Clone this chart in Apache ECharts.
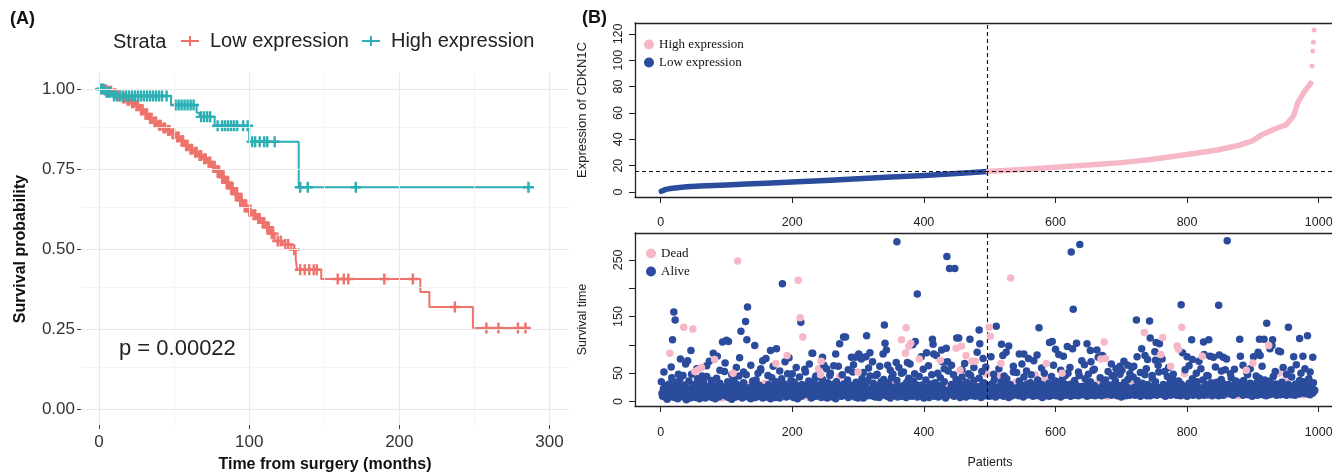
<!DOCTYPE html>
<html><head><meta charset="utf-8">
<script src="https://cdn.jsdelivr.net/npm/echarts@6/dist/echarts.min.js"></script>
<style>html,body{margin:0;padding:0;background:#fff}#c{width:1332px;height:472px}</style>
</head><body><div id="c"></div>
<script>
// ---------- Panel A: Kaplan-Meier ----------
const kmLowSteps = [[0,1],[3,0.997],[6,0.993],[9,0.985],[12,0.978],[15,0.972],[18,0.965],[21,0.957],[24,0.948],[27,0.935],[30,0.922],[33,0.908],[36,0.897],[39,0.887],[42,0.878],[45,0.870],[48,0.860],[51,0.850],[54,0.838],[57,0.823],[60,0.812],[63,0.802],[66,0.792],[69,0.782],[72,0.772],[75,0.758],[78,0.742],[81,0.725],[84,0.707],[87,0.690],[90,0.672],[93,0.652],[96,0.635],[99,0.618],[102,0.607],[105,0.595],[108,0.582],[111,0.568],[114,0.548],[117,0.525],[122,0.514],[128,0.498],[131,0.467],[132,0.435],[148,0.406],[214,0.366],[220,0.319],[249,0.253],[287,0.253]];
const kmLowCensor = [4,5,7,8,10,11,13,14,16,17,19,20,22,23,25,26,28,29,31,32,34,35,37,38,40,41,43,44,46,47,49,50,52,53,55,56,58,59,61,62,64,65,67,68,70,71,73,74,76,77,79,80,82,83,85,86,88,89,91,92,94,95,97,98,100,101,103,104,106,107,109,110,112,113,115,116,119,121,124,126,130,134,137,140,143,145,159,163,166,190,209,237,258,266,279,284];
const kmHighSteps = [[0,1],[4,0.99],[9,0.978],[48,0.950],[65,0.926],[67,0.913],[77,0.885],[100,0.835],[133,0.693],[286,0.693]];
const kmHighCensor = [1,2,3,5,6,7,10,12,14,16,18,20,22,24,26,28,30,32,34,36,38,40,42,45,51,53,55,57,59,61,63,68,70,72,74,79,82,84,86,88,90,92,96,99,102,104,107,110,112,117,134,139,171,286];
const kmXTicks = [0,100,200,300];
const kmYTicks = [0,0.25,0.5,0.75,1];
const kmXMajor = [0,100,200,300];
const kmXMinor = [50,150,250];
const kmYMajor = [0,0.25,0.5,0.75,1];
const kmYMinor = [0.125,0.375,0.625,0.875];
const pValueText = 'p = 0.00022';

// ---------- Panel B top: sorted expression ----------
const exprLow = [[1,0.5],[3,1.3],[8,2.0],[15,2.6],[25,3.2],[40,3.9],[60,4.5],[80,5.0],[100,5.4],[130,6.0],[160,6.6],[200,7.6],[250,8.8],[300,10.0],[350,11.3],[400,12.6],[450,14.0],[497,15.5]];
const exprHigh = [[498,15.6],[550,17.1],[600,18.8],[650,20.5],[700,22.3],[745,24.6],[800,28.5],[846,31.9],[881,35.7],[900,39],[912,43],[932,47.6],[950,51],[957,54.7],[962,58],[968,67.6],[978,76],[988,82.6]];
const exprHighTail = [[990,95.7],[991,107],[992,113.6],[993,123]];
const exprCutoff = 15.5;
const cutoffRank = 497;
const patientTicks = [0,200,400,600,800,1000];
const exprTicks = [0,20,40,60,80,100,120];

// ---------- Panel B bottom: survival time per patient ----------
const survTime = [
35,14,9,22,17,6,28,12,19,4,25,15,31,8,20,13,42,10,18,26,
7,16,33,11,23,5,19,14,38,9,27,12,21,46,8,17,29,13,3,24,
15,10,36,20,6,18,48,12,26,9,16,30,7,22,14,40,11,19,5,28,
13,25,8,17,34,11,21,6,15,44,18,10,27,9,23,14,37,7,20,12,
29,16,5,19,41,13,24,8,17,32,10,22,15,6,26,18,53,11,20,9,
14,35,7,21,12,28,17,4,23,10,39,15,19,8,31,13,25,11,45,16,
9,20,27,6,18,33,12,22,15,47,10,24,8,19,30,14,5,26,13,36,
17,11,23,7,38,15,20,9,29,13,18,55,10,25,6,21,14,32,12,19,
24,8,16,30,11,22,5,18,42,14,27,10,20,7,35,15,23,12,17,28,
6,19,13,40,9,25,16,31,11,21,8,17,49,14,26,10,20,37,12,15,
22,7,34,14,18,10,28,5,23,16,43,12,19,9,30,15,25,11,57,17,
13,27,8,20,36,11,24,15,6,19,32,10,22,14,41,9,26,17,12,29,
18,10,25,7,21,39,13,17,28,9,15,23,6,33,12,20,46,14,24,11,
8,30,16,12,22,5,35,19,14,27,10,44,17,21,9,26,13,31,15,20,
25,11,18,38,7,23,14,29,10,20,16,52,12,24,8,19,34,13,22,6,
15,21,9,28,13,40,17,6,24,11,30,19,14,36,10,22,16,45,12,27,
10,18,32,14,23,8,26,12,48,16,20,7,29,15,35,11,21,13,39,17,
20,12,27,9,17,33,14,24,6,19,42,11,25,16,10,30,22,13,37,8,
16,26,11,21,14,50,9,19,28,12,23,17,7,34,15,20,41,10,25,13,
27,9,15,36,11,22,18,30,13,8,24,16,44,12,20,10,29,14,19,6,
12,23,38,10,19,14,26,7,21,31,15,47,11,18,25,9,33,16,22,13,
19,8,28,15,42,12,20,24,10,17,35,14,6,26,18,11,54,13,21,16,
14,30,10,22,17,9,27,13,39,19,11,24,15,32,7,20,16,43,12,25,
23,13,18,8,34,16,21,11,29,14,46,10,19,25,12,37,17,9,22,15,
11,26,15,41,13,20,7,28,18,12,33,16,23,10,49,14,19,27,9,21,
17,10,31,14,22,12,38,19,8,25,15,20,45,11,27,13,18,35,16,24,
9,21,16,28,11,40,14,23,7,18,30,13,26,10,19,52,15,22,12,34,
20,13,25,10,36,17,12,29,15,21,8,43,16,24,11,19,31,14,27,18,
15,33,11,19,24,9,28,14,47,17,12,22,38,10,26,16,20,13,30,7,
25,12,18,39,14,21,10,27,16,32,9,23,15,44,11,20,17,29,13,36,
10,19,28,13,22,15,35,8,24,18,41,12,26,16,11,30,21,14,50,17,
22,14,9,31,17,25,12,20,37,11,18,28,15,23,10,46,16,26,13,19,
16,27,12,20,40,14,23,9,30,18,13,24,35,11,21,17,55,15,28,10,
19,11,24,15,33,21,13,42,17,10,26,14,31,20,12,38,16,23,9,27,
13,22,17,29,11,45,19,14,25,16,36,12,21,10,28,18,15,48,24,8,
28,15,21,12,34,18,10,26,14,39,17,23,11,30,16,20,13,43,19,25,
11,24,16,37,13,20,29,15,9,22,18,32,12,27,14,47,17,21,10,30,
18,13,26,10,23,16,41,12,20,28,14,35,19,11,25,17,52,13,22,15,
24,17,12,30,15,21,9,27,18,44,13,23,16,33,11,20,26,14,38,19,
14,28,19,11,25,16,36,13,22,10,31,18,15,27,12,49,20,17,24,9,
21,12,32,16,27,14,19,40,11,23,17,29,13,20,35,15,25,10,18,26,
16,23,13,38,18,11,26,15,21,30,12,45,17,24,14,19,33,10,28,20,
27,15,20,12,34,17,24,10,29,14,22,39,16,19,11,31,13,56,18,25,
12,21,30,15,19,13,42,17,25,11,28,16,23,36,14,20,10,27,18,33,
19,26,14,22,11,37,16,29,13,24,18,47,12,21,15,32,17,25,9,20,
23,16,28,13,20,33,11,25,18,41,14,22,17,30,12,26,15,38,19,10,
15,29,18,24,12,36,20,14,27,16,44,13,21,19,31,11,25,17,50,22,
18,12,25,34,15,21,13,28,17,39,11,23,16,30,14,20,26,12,43,19,
24,14,20,11,31,17,26,15,22,13,37,18,29,16,12,25,19,35,14,21,
17,27,13,22,40,16,12,28,19,24,15,33,18,20];
const vitalStatus = [
'00000100000000000010','00000000000100000000','01000000000000001000','00000010000000000000',
'00010000000001000000','00000000100000000001','00000001000000100000','10000000000000000100',
'00000100000010000000','00001000000000000000','00000000010000000100','00100000000001000000',
'00000010000000000010','00000000000100000000','01000000100000000000','00000000000010000001',
'00010000000000000000','00000001000000010000','00000000001000000000','10000000000000100000',
'00000100000000000100','00000000000001000000','00100000000000000010','00000000010000000000',
'00000100000000100000','00000000000010000000','01000000000000000001','00000010000000000000',
'00000000100000010000','00010000000000000000','00000000000100000000','10000001000000000000',
'00000000000000100000','00001000000000000010','00000000010000000000','00100000000001000000',
'00000000000000000100','00000100000000000000','01000000001000000000','00000000000000010000',
'00010000000000000001','00000000100000000000','00000000000010000000','10000000000000001000',
'00000010000000000000','00000000000100000000','00100000000000000010','00000000010000000000',
'00000100000000100000','00000000100000'].join('');
const midAlive = [[5,52],[16,61],[27,48],[38,66],[55,58],[63,45],[70,63],[90,55],[98,68],[108,47],[115,60],[126,52],[137,64],[148,50],[152,58],[163,46],[171,62],[181,54],[189,70],[200,49],[206,60],[220,52],[226,66],[236,45],[252,58],[258,50],[270,62],[276,47],[285,56],[293,65],[308,51],[316,59],[327,46],[333,62],[349,55],[353,48],[362,60],[369,52],[379,66],[386,49],[399,57],[407,63],[421,50],[431,58],[442,64],[445,47],[458,56],[462,67],[468,49],[476,60],[488,53],[494,61],[506,48],[514,58],[522,45],[536,62],[541,51],[549,66],[556,54],[563,47],[579,59],[583,50],[597,64],[608,55],[615,46],[622,60],[635,52],[644,65],[650,48],[659,57],[680,53],[689,46],[701,55],[713,49],[719,62],[729,51],[738,58],[747,46],[756,64],[766,53],[772,60],[779,48],[797,56],[803,63],[814,50],[821,58],[830,46],[843,61],[852,54],[866,49],[872,57],[885,64],[891,51],[896,58],[905,45],[914,62],[934,53],[946,60],[951,48],[958,56],[966,65],[973,50],[979,58],[987,52]];
const midDead = [[62,60],[240,58],[300,52],[455,55],[610,50],[775,62],[890,55]];
const longAlive = [[18,109],[20,158],[22,144],[30,75],[41,72],[46,90],[74,71],[80,85],[86,80],[94,105],[100,108],[103,106],[120,77],[122,124],[129,141],[131,109],[132,167],[143,99],[155,72],[160,76],[167,90],[176,93],[185,208],[195,77],[213,140],[230,85],[231,85],[246,78],[248,64],[263,63],[266,84],[272,102],[278,114],[281,114],[290,78],[305,75],[312,79],[313,116],
[296,78],[301,84],[303,80],[318,86],[322,70],[338,84],[340,135],[341,103],[343,91],[345,64],[358,69],[359,282],[375,69],[383,100],[387,106],[390,190],[396,79],[404,86],[413,110],[414,101],[415,84],[419,81],[427,91],[428,70],[434,94],[435,256],[436,70],[439,235],[447,235],[450,112],[453,112],[470,110],[481,87],[484,126],[485,102],[490,76],[502,79],[510,133],[518,101],[520,81],[525,87],[529,98],[545,84],[552,84],[559,76],[567,72],[572,82],[575,130],[591,104],[595,106],[600,92],[605,83],[612,80],[618,97],[624,264],[626,93],[627,163],[632,103],[637,277],[640,72],[648,102],[653,90],[654,70],[663,91],[665,78],
[671,81],[672,80],[685,66],[692,58],[698,62],[704,71],[710,64],[716,60],[723,144],[724,79],[731,93],[736,81],[740,74],[743,142],[744,112],[751,88],[752,73],[753,104],[758,102],[762,75],[791,171],[793,86],[800,79],[807,109],[808,74],[818,71],[825,105],[826,83],[833,109],[835,80],[840,78],[848,170],[849,82],[855,78],[860,75],[861,284],[880,110],[881,80],[901,79],[908,87],[910,110],[911,81],[917,110],[921,138],[926,93],[929,99],[930,109],[939,89],[942,88],[954,131],[962,79],[971,111],[976,80],[983,116],[991,78]];
const longDead = [[14,85],[35,131],[49,128],[52,53],[57,56],[82,74],[110,50],[117,248],[175,67],[192,81],[209,214],[212,148],[216,114],[243,47],[244,71],[366,109],[372,85],[373,130],[377,97],[380,103],[393,75],[425,73],[449,94],[457,98],[464,81],[473,71],[478,71],[499,131],[501,115],[517,67],[532,218],[586,67],[669,75],[674,105],[676,76],[735,122],[760,83],[763,113],[785,98],[787,92],[792,131],[823,80],[900,68],[924,99]];
const survTicks = [0,50,100,150,200,250];
const survLabels = [0,50,150,250];

// ---------- build ----------
const RED = '#EE736C', TEAL = '#2BAFB4', BLUE = '#2B4C9C', PINK = '#F6B8C7';
const PLUS = 'path://M3.9,0H6.1V10H3.9Z M0,3.9H10V6.1H0Z';
const PLUS_LINE = 'path://M0,5H18V7H0Z M8,1H10V11H8Z';
function kmAt(steps, t) { let s = steps[0][1]; for (const [tt, v] of steps) { if (tt <= t) s = v; } return s; }
const lowCens = kmLowCensor.map(t => [t, kmAt(kmLowSteps, t)]);
const highCens = kmHighCensor.map(t => [t, kmAt(kmHighSteps, t)]);
const bandAlive = [], bandDead = [];
survTime.forEach((t, i) => { (vitalStatus[i] === '1' ? bandDead : bandAlive).push([i + 1, t]); });

const gridMark = (vals, key, color, w) => vals.map(v => ({ [key]: v, lineStyle: { color: color, width: w, type: 'solid' } }));
const sansA = 'Liberation Sans';
const axTextB = { color: '#222', fontSize: 12.5, fontFamily: 'Liberation Sans', fontWeight: 'normal' };
const dash = { color: '#111', width: 1.1, type: [4, 3] };
const noLine = { show: false, onZero: false };
const boxLine = { show: true, onZero: false, lineStyle: { color: '#222', width: 1.3 } };
const plain = v => String(v);
const PX_MIN = -39, PX_MAX = 1040;
const boxTopAxis = gi => ({ type: 'value', gridIndex: gi, position: 'top', min: PX_MIN, max: PX_MAX,
  axisLine: boxLine, axisTick: { show: false }, axisLabel: { show: false }, splitLine: { show: false } });

const option = {
  animation: false,
  backgroundColor: '#fff',
  grid: [
    { left: 81, top: 73, width: 488, height: 352, show: false, outerBoundsMode: 'none', containLabel: false },
    { left: 635, top: 23, width: 710, height: 174, show: false, outerBoundsMode: 'none', containLabel: false },
    { left: 635, top: 233, width: 710, height: 173, show: false, outerBoundsMode: 'none', containLabel: false }
  ],
  xAxis: [
    { type: 'value', gridIndex: 0, min: -12, max: 313,
      axisLine: noLine, splitLine: { show: false },
      axisTick: { show: true, customValues: kmXTicks, length: 4, lineStyle: { color: '#444' } },
      axisLabel: { customValues: kmXTicks, fontSize: 17, color: '#333', fontFamily: sansA, margin: 9, formatter: plain },
      name: 'Time from surgery (months)', nameLocation: 'middle', nameGap: 32,
      nameTextStyle: { fontSize: 16, fontWeight: 'bold', color: '#111', fontFamily: sansA } },
    { type: 'value', gridIndex: 1, min: PX_MIN, max: PX_MAX,
      axisLine: boxLine, splitLine: { show: false },
      axisTick: { show: true, customValues: patientTicks, length: 6, lineStyle: { color: '#222' } },
      axisLabel: Object.assign({ customValues: patientTicks, margin: 19, formatter: plain }, axTextB) },
    { type: 'value', gridIndex: 2, min: PX_MIN, max: PX_MAX,
      axisLine: boxLine, splitLine: { show: false },
      axisTick: { show: true, customValues: patientTicks, length: 6, lineStyle: { color: '#222' } },
      axisLabel: Object.assign({ customValues: patientTicks, margin: 20, formatter: plain }, axTextB),
      name: 'Patients', nameLocation: 'middle', nameGap: 50, nameTextStyle: { fontSize: 12.5, color: '#222', fontFamily: 'Liberation Sans' } },
    boxTopAxis(1),
    boxTopAxis(2)
  ],
  yAxis: [
    { type: 'value', gridIndex: 0, min: -0.05, max: 1.05,
      axisLine: noLine, splitLine: { show: false },
      axisTick: { show: true, customValues: kmYTicks, length: 4, lineStyle: { color: '#444' } },
      axisLabel: { customValues: kmYTicks, fontSize: 17, color: '#333', fontFamily: sansA, margin: 6, formatter: v => v.toFixed(2) },
      name: 'Survival probability', nameLocation: 'middle', nameGap: 52, nameRotate: 90,
      nameTextStyle: { fontSize: 16, fontWeight: 'bold', color: '#111', fontFamily: sansA } },
    { type: 'value', gridIndex: 1, min: -3.8, max: 128.3,
      axisLine: boxLine, splitLine: { show: false },
      axisTick: { show: true, customValues: exprTicks, length: 6, lineStyle: { color: '#222' } },
      axisLabel: Object.assign({ customValues: exprTicks, rotate: 90, margin: 10, formatter: plain }, axTextB),
      name: 'Expression of CDKN1C', nameLocation: 'middle', nameGap: 46, nameRotate: 90,
      nameTextStyle: { fontSize: 13, color: '#222', fontFamily: 'Liberation Sans' } },
    { type: 'value', gridIndex: 2, min: -8, max: 297.5,
      axisLine: boxLine, splitLine: { show: false },
      axisTick: { show: true, customValues: survTicks, length: 6, lineStyle: { color: '#222' } },
      axisLabel: Object.assign({ customValues: survLabels, rotate: 90, margin: 10, formatter: plain }, axTextB),
      name: 'Survival time', nameLocation: 'middle', nameGap: 46, nameRotate: 90,
      nameTextStyle: { fontSize: 12.5, color: '#222', fontFamily: 'Liberation Sans' } }
  ],
  legend: [
    { left: 181, top: 31, padding: 0, itemWidth: 18, itemHeight: 10, itemGap: 13, selectedMode: false,
      textStyle: { fontSize: 20, color: '#222', fontFamily: sansA, padding: [0, 0, 0, 6] },
      data: [ { name: 'Low expression', icon: PLUS_LINE, itemStyle: { color: RED } },
              { name: 'High expression', icon: PLUS_LINE, itemStyle: { color: TEAL } } ] },
    { left: 644, top: 38, padding: 0, orient: 'vertical', itemWidth: 10, itemHeight: 10, itemGap: 5, selectedMode: false,
      textStyle: { fontSize: 13, color: '#111', fontFamily: 'Liberation Serif' },
      data: [ { name: 'High expression', icon: 'circle', itemStyle: { color: PINK } },
              { name: 'Low expression', icon: 'circle', itemStyle: { color: BLUE } } ] },
    { left: 646, top: 247, padding: 0, orient: 'vertical', itemWidth: 10, itemHeight: 10, itemGap: 5, selectedMode: false,
      textStyle: { fontSize: 13, color: '#111', fontFamily: 'Liberation Serif' },
      data: [ { name: 'Dead', icon: 'circle', itemStyle: { color: PINK } },
              { name: 'Alive', icon: 'circle', itemStyle: { color: BLUE } } ] }
  ],
  graphic: [
    { type: 'text', left: 10, top: 10, style: { text: '(A)', fontSize: 18, fontWeight: 'bold', fill: '#111', fontFamily: sansA } },
    { type: 'text', left: 582, top: 9, style: { text: '(B)', fontSize: 18, fontWeight: 'bold', fill: '#111', fontFamily: sansA } },
    { type: 'text', left: 113, top: 32, style: { text: 'Strata', fontSize: 20, fill: '#222', fontFamily: sansA } },
    { type: 'text', left: 119, top: 338, style: { text: pValueText, fontSize: 22, fill: '#222', fontFamily: sansA } }
  ],
  series: [
    { name: '_grid', type: 'line', xAxisIndex: 0, yAxisIndex: 0, data: [], z: 0, silent: true,
      markLine: { silent: true, symbol: ['none', 'none'], label: { show: false }, animation: false,
        data: [].concat(gridMark(kmXMinor, 'xAxis', '#f1f1f1', 0.8), gridMark(kmYMinor, 'yAxis', '#f1f1f1', 0.8),
                        gridMark(kmXMajor, 'xAxis', '#e8e8e8', 1.1), gridMark(kmYMajor, 'yAxis', '#e8e8e8', 1.1)) } },
    { name: 'Low expression', type: 'line', xAxisIndex: 0, yAxisIndex: 0, step: 'end', data: kmLowSteps,
      showSymbol: false, lineStyle: { color: RED, width: 2 }, itemStyle: { color: RED }, z: 3 },
    { name: 'High expression', type: 'line', xAxisIndex: 0, yAxisIndex: 0, step: 'end', data: kmHighSteps,
      showSymbol: false, lineStyle: { color: TEAL, width: 2 }, itemStyle: { color: TEAL }, z: 4 },
    { name: 'Low expression', type: 'scatter', xAxisIndex: 0, yAxisIndex: 0, data: lowCens,
      symbol: PLUS, symbolSize: 11, itemStyle: { color: RED, opacity: 1 }, z: 3 },
    { name: 'High expression', type: 'scatter', xAxisIndex: 0, yAxisIndex: 0, data: highCens,
      symbol: PLUS, symbolSize: 11, itemStyle: { color: TEAL, opacity: 1 }, z: 4 },

    { name: 'Low expression', type: 'line', xAxisIndex: 1, yAxisIndex: 1, data: exprLow, showSymbol: false,
      lineStyle: { color: BLUE, width: 5.5, cap: 'round', join: 'round' }, z: 3,
      markLine: { silent: true, symbol: ['none', 'none'], label: { show: false }, lineStyle: dash,
        data: [ { yAxis: exprCutoff }, { xAxis: cutoffRank } ] } },
    { name: 'High expression', type: 'line', xAxisIndex: 1, yAxisIndex: 1, data: exprHigh, showSymbol: false,
      lineStyle: { color: PINK, width: 5.5, cap: 'round', join: 'round' }, z: 3 },
    { name: 'High expression', type: 'scatter', xAxisIndex: 1, yAxisIndex: 1, data: exprHighTail,
      symbolSize: 5, itemStyle: { color: PINK, opacity: 1 }, z: 3 },

    { name: 'Dead', type: 'scatter', xAxisIndex: 2, yAxisIndex: 2, data: bandDead, symbolSize: 7.5,
      itemStyle: { color: PINK, opacity: 1 }, z: 2,
      markLine: { silent: true, symbol: ['none', 'none'], label: { show: false }, lineStyle: dash,
        data: [ { xAxis: cutoffRank } ] } },
    { name: 'Alive', type: 'scatter', xAxisIndex: 2, yAxisIndex: 2, data: bandAlive, symbolSize: 7.5,
      itemStyle: { color: BLUE, opacity: 1 }, z: 3 },
    { name: 'Alive', type: 'scatter', xAxisIndex: 2, yAxisIndex: 2, data: midAlive, symbolSize: 7.5,
      itemStyle: { color: BLUE, opacity: 1 }, z: 3 },
    { name: 'Dead', type: 'scatter', xAxisIndex: 2, yAxisIndex: 2, data: midDead, symbolSize: 7.5,
      itemStyle: { color: PINK, opacity: 1 }, z: 4 },
    { name: 'Alive', type: 'scatter', xAxisIndex: 2, yAxisIndex: 2, data: longAlive, symbolSize: 7.5,
      itemStyle: { color: BLUE, opacity: 1 }, z: 4 },
    { name: 'Dead', type: 'scatter', xAxisIndex: 2, yAxisIndex: 2, data: longDead, symbolSize: 7.5,
      itemStyle: { color: PINK, opacity: 1 }, z: 5 }
  ]
};
const chart = echarts.init(document.getElementById('c'), null, { renderer: 'canvas' });
chart.setOption(option);
</script>
</body></html>
